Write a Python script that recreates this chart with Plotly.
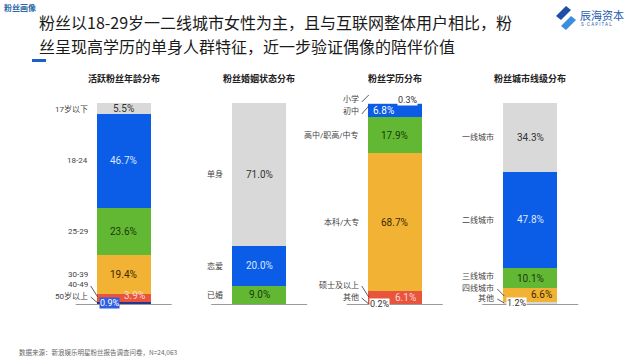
import plotly.graph_objects as go

# ---------------- data ----------------
panels = ["活跃粉丝年龄分布", "粉丝婚姻状态分布", "粉丝学历分布", "粉丝城市线级分布"]

# bottom -> top
age_labels = ["50岁以上", "40-49", "30-39", "25-29", "18-24", "17岁以下"]
age_values = [0.9, 3.9, 19.4, 23.6, 46.7, 5.5]

marital_labels = ["已婚", "恋爱", "单身"]
marital_values = [9.0, 20.0, 71.0]

edu_labels = ["其他", "硕士及以上", "本科/大专", "高中/职高/中专", "初中", "小学"]
edu_values = [0.2, 6.1, 68.7, 17.9, 6.8, 0.3]

city_labels = ["其他", "四线城市", "三线城市", "二线城市", "一线城市"]
city_values = [1.2, 6.6, 10.1, 47.8, 34.3]

title_line1 = "粉丝以18-29岁一二线城市女性为主，且与互联网整体用户相比，粉"
title_line2 = "丝呈现高学历的单身人群特征，近一步验证偶像的陪伴价值"
section = "粉丝画像"
source = "数据来源：新浪娱乐明星粉丝报告调查问卷，N=24,063"

# ---------------- styles ----------------
GRAY, BLUE, GREEN, ORANGE, RED, NAVY = "#d9d9d9", "#0b5ce6", "#62b832", "#f2b233", "#e8553d", "#25358c"
panel_colors = [
    [NAVY, RED, ORANGE, GREEN, BLUE, GRAY],
    [GREEN, BLUE, GRAY],
    [GRAY, RED, ORANGE, GREEN, BLUE, GRAY],
    [GRAY, ORANGE, GREEN, BLUE, GRAY],
]
text_col = {GRAY: "#333333", BLUE: "#dce8ff", GREEN: "#1c3a0c", ORANGE: "#3a2a00", RED: "#ffd6d6", NAVY: "#ffffff"}

W, H = 640, 359
X0, PW = 56, 542          # plot area left / width (px)
YB, YT = 304, 103         # plot area bottom / top (px)
HALF = 27                 # half bar width px

def cx(i):
    return X0 + PW * (i + 0.5) / 4

def xp(px):
    return px / W

def yp(py):
    return (H - py) / H

def vy(v):
    return YB - (YB - YT) * v / 100.0

# overrides for tiny segments (pixel offsets, style only)
cat_over = {
    (0, "40-49"): dict(target=285, lead=(1, 12)),
    (0, "50岁以上"): dict(target=296, lead=(1, 7)),
    (2, "小学"): dict(target=99, lead=(3, -4)),
    (2, "初中"): dict(target=111, lead=(3, -5)),
    (2, "硕士及以上"): dict(target=285, lead=(1, 12)),
    (2, "其他"): dict(target=297, lead=(1, 7)),
    (3, "三线城市"): dict(target=276),
    (3, "四线城市"): dict(target=288, lead=(1, 8)),
    (3, "其他"): dict(target=298, lead=(1, 5)),
}
val_over = {
    (0, "40-49"): dict(xanchor="right", xshift=23, target=296),
    (0, "50岁以上"): dict(xshift=-14, target=303, bg="#2f5fe0", color="#ffffff"),
    (2, "小学"): dict(xshift=13, target=100, bg="#ffffff", color="#333333"),
    (2, "初中"): dict(xanchor="left", xshift=-24, color="#ffffff"),
    (2, "硕士及以上"): dict(xanchor="right", xshift=23, target=297),
    (2, "其他"): dict(xshift=-15, target=304, bg="#ffffff", color="#333333"),
    (3, "四线城市"): dict(xanchor="right", xshift=24, target=294),
    (3, "其他"): dict(xshift=-14, target=303, bg="#ffffff", color="#333333"),
}

all_labels = [age_labels, marital_labels, edu_labels, city_labels]
all_values = [age_values, marital_values, edu_values, city_values]

fig = go.Figure()
annotations = []
shapes = []
NUMFONT = "Roboto, Noto Sans CJK SC, sans-serif"
CJK = "Noto Sans CJK SC, sans-serif"

for i, (panel, labels, values, cols) in enumerate(zip(panels, all_labels, all_values, panel_colors)):
    cum = 0.0
    for lab, v, c in zip(labels, values, cols):
        fig.add_trace(go.Bar(x=[panel], y=[v], marker=dict(color=c, line=dict(width=0)),
                             width=0.4, showlegend=False, hoverinfo="skip"))
        center = cum + v / 2
        cpx = vy(center)
        # category label
        co = cat_over.get((i, lab), {})
        ty = co.get("target", cpx)
        annotations.append(dict(x=panel, y=center, xref="x", yref="y", text=lab, showarrow=False,
                                xanchor="right", yanchor="middle", xshift=-(HALF + 7), yshift=cpx - ty,
                                font=dict(family=NUMFONT, size=8, color="#444444")))
        if "lead" in co:
            rx = cx(i) - HALF - 7
            d0, d1 = co["lead"]
            shapes.append(dict(type="line", xref="paper", yref="paper",
                               x0=xp(rx + 1), y0=yp(ty + d0), x1=xp(rx + 8), y1=yp(ty + d1),
                               line=dict(color="#333333", width=0.8)))
        # value label
        vo = val_over.get((i, lab), {})
        vty = vo.get("target", cpx)
        ann = dict(x=panel, y=center, xref="x", yref="y", text=f"{v:.1f}%", showarrow=False,
                   xanchor=vo.get("xanchor", "center"), yanchor="middle",
                   xshift=vo.get("xshift", 0), yshift=cpx - vty,
                   font=dict(family=NUMFONT, size=10 if not vo.get("bg") else 9,
                             color=vo.get("color", text_col[c])))
        if vo.get("bg"):
            ann["bgcolor"] = vo["bg"]
            ann["borderpad"] = 0
        annotations.append(ann)
        cum += v
    # panel title
    annotations.append(dict(x=xp(cx(i)), y=yp(78), xref="paper", yref="paper", text=f"<b>{panel}</b>",
                            showarrow=False, xanchor="center", yanchor="middle",
                            font=dict(family=CJK, size=9, color="#222222")))
    # baseline
    shapes.append(dict(type="line", xref="paper", yref="paper",
                       x0=xp(cx(i) - 48), x1=xp(cx(i) + 48), y0=yp(304.5), y1=yp(304.5),
                       line=dict(color="#9a9a9a", width=1)))

# header texts
annotations += [
    dict(x=xp(2), y=yp(8), xref="paper", yref="paper", text=f"<b>{section}</b>", showarrow=False,
         xanchor="left", yanchor="middle", font=dict(family=CJK, size=8, color="#2f6aa8")),
    dict(x=xp(37), y=yp(22), xref="paper", yref="paper", text=title_line1, showarrow=False,
         xanchor="left", yanchor="middle", font=dict(family=CJK, size=16, color="#1a1a1a")),
    dict(x=xp(37), y=yp(46), xref="paper", yref="paper", text=title_line2, showarrow=False,
         xanchor="left", yanchor="middle", font=dict(family=CJK, size=16, color="#1a1a1a")),
    dict(x=xp(578), y=yp(15), xref="paper", yref="paper", text="辰海资本", showarrow=False,
         xanchor="left", yanchor="middle", font=dict(family=CJK, size=11, color="#1f5bb0")),
    dict(x=xp(579), y=yp(25), xref="paper", yref="paper", text="S · C A P I T A L", showarrow=False,
         xanchor="left", yanchor="middle", font=dict(family=NUMFONT, size=4.5, color="#1f5bb0")),
    dict(x=xp(17), y=yp(352), xref="paper", yref="paper", text=source, showarrow=False,
         xanchor="left", yanchor="middle", font=dict(family=CJK, size=6.5, color="#666666")),
]

def path(pts):
    s = "M " + " L ".join(f"{xp(a):.5f} {yp(b):.5f}" for a, b in pts) + " Z"
    return s

shapes += [
    dict(type="rect", xref="paper", yref="paper", x0=xp(32), x1=xp(46), y0=yp(59), y1=yp(62),
         fillcolor="#1a5fd0", line=dict(width=0)),
    dict(type="path", xref="paper", yref="paper", path=path([(566, 6), (556, 16), (561, 20), (571, 10)]),
         fillcolor="#1d4fa8", line=dict(width=0)),
    dict(type="path", xref="paper", yref="paper", path=path([(566, 30), (576, 20), (571, 16), (561, 26)]),
         fillcolor="#3a8ee0", line=dict(width=0)),
]

fig.update_layout(
    width=W, height=H, margin=dict(l=0, r=0, t=0, b=0),
    paper_bgcolor="white", plot_bgcolor="white",
    barmode="stack", bargap=0.6, hovermode=False,
    xaxis=dict(domain=[X0 / W, (X0 + PW) / W], range=[-0.5, 3.5], visible=False, type="category"),
    yaxis=dict(domain=[(H - YB) / H, (H - YT) / H], range=[0, 100], visible=False),
    annotations=annotations, shapes=shapes,
)

fig.write_html("out.html", config={"displayModeBar": False},
               post_script="document.body.style.margin='0px';document.body.style.overflow='hidden';")
